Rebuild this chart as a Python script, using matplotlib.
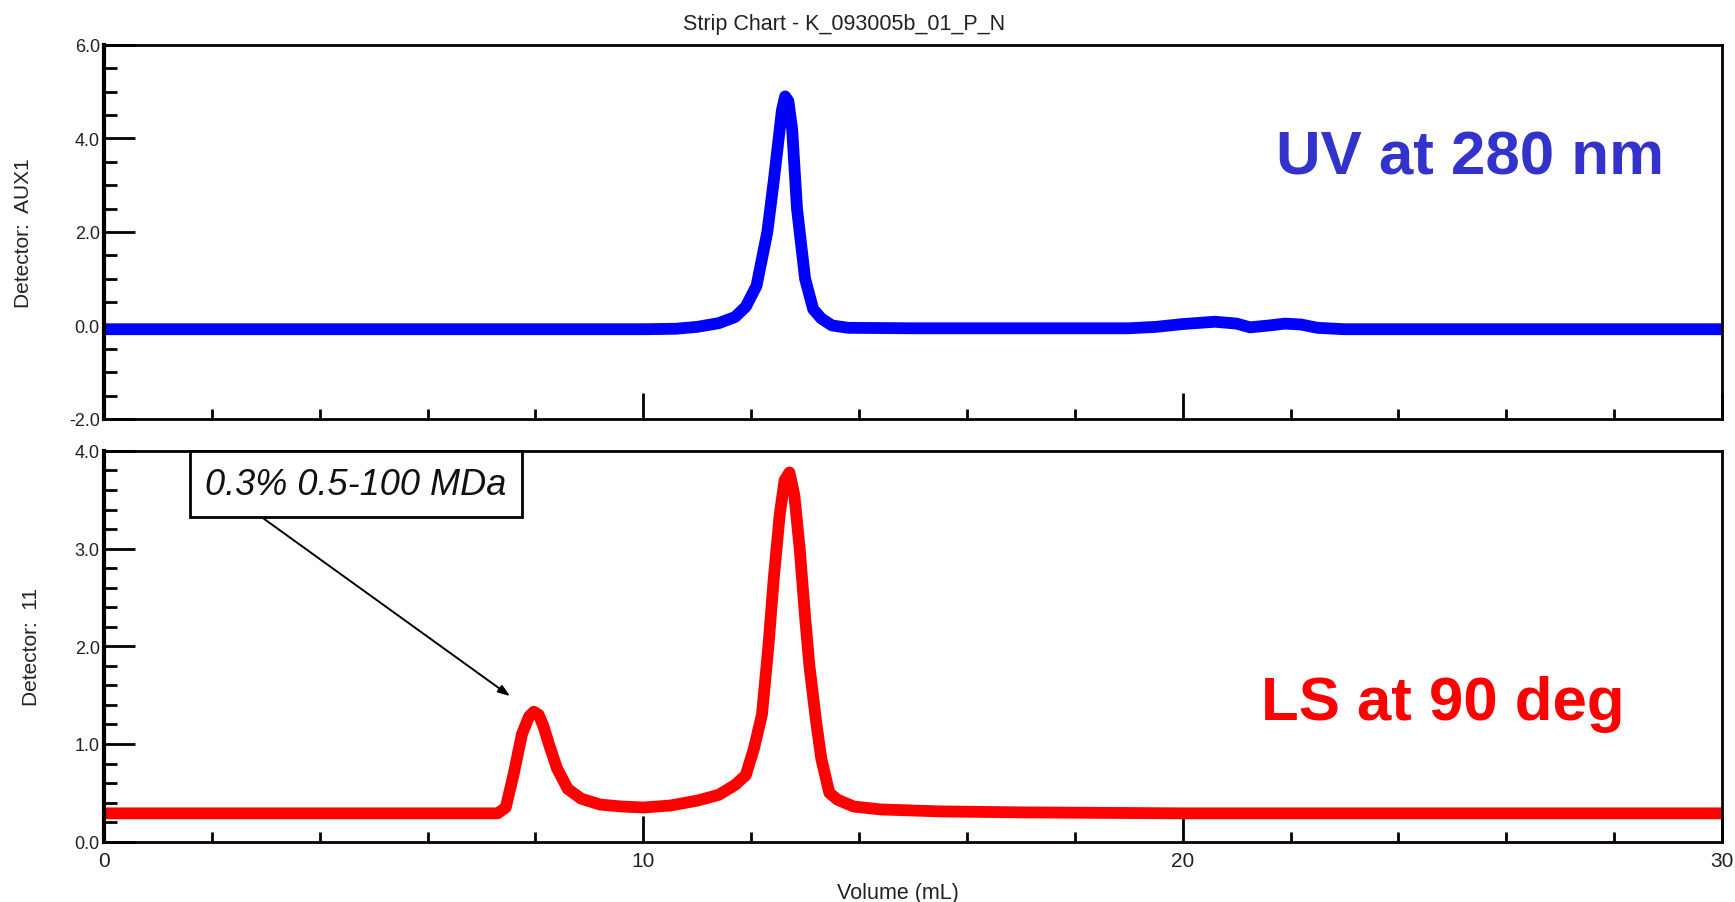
import matplotlib.pyplot as plt
from matplotlib.ticker import MultipleLocator, FormatStrFormatter

plt.rcParams['font.family'] = ['Liberation Sans', 'DejaVu Sans']

TITLE = "Strip Chart - K_093005b_01_P_N"

# UV detector trace (AUX1)
uv_volume = [0, 10.0, 10.6, 11.0, 11.4, 11.7, 11.9, 12.1, 12.3, 12.42, 12.5,
             12.57, 12.63, 12.69, 12.76, 12.85, 13.0, 13.15, 13.3, 13.5, 13.8,
             15.0, 19.0, 19.5, 20.0, 20.6, 21.0, 21.25, 21.6, 21.9, 22.2, 22.5,
             23.0, 30.0]
uv_signal = [-0.08, -0.08, -0.07, -0.03, 0.05, 0.18, 0.40, 0.85, 2.0, 3.1, 3.9,
             4.6, 4.9, 4.8, 4.2, 2.5, 1.0, 0.35, 0.15, 0.0, -0.05,
             -0.06, -0.06, -0.03, 0.03, 0.08, 0.04, -0.04, 0.0, 0.04, 0.02, -0.05,
             -0.08, -0.08]

# light scattering trace (detector 11)
ls_volume = [0, 7.3, 7.45, 7.6, 7.75, 7.88, 7.97, 8.06, 8.15, 8.25, 8.4, 8.6,
             8.85, 9.2, 9.6, 10.0, 10.5, 11.0, 11.4, 11.7, 11.9, 12.05, 12.2,
             12.32, 12.42, 12.53, 12.62, 12.71, 12.8, 12.9, 13.0, 13.08, 13.2,
             13.3, 13.45, 13.6, 13.9, 14.4, 15.5, 17.0, 20.0, 30.0]
ls_signal = [0.29, 0.29, 0.35, 0.7, 1.1, 1.28, 1.33, 1.30, 1.18, 1.0, 0.75, 0.54,
             0.44, 0.38, 0.36, 0.35, 0.37, 0.42, 0.48, 0.58, 0.68, 0.95, 1.3,
             2.0, 2.7, 3.35, 3.7, 3.78, 3.55, 3.0, 2.3, 1.8, 1.25,
             0.85, 0.5, 0.43, 0.36, 0.33, 0.31, 0.30, 0.29, 0.29]

x_limits = (0, 30)
x_tick_labels = ['0', '10', '20', '30']
uv_limits = (-2.0, 6.0)
ls_limits = (0.0, 4.0)

note_text = "0.3% 0.5-100 MDa"
note_target = (7.53, 1.49)
note_tail = (2.93, 3.32)


def style_axis(ax, ylim, ymajor, yminor):
    """Strip-chart look: inward ticks on left and bottom only."""
    ax.set_xlim(*x_limits)
    ax.set_ylim(*ylim)
    ax.xaxis.set_major_locator(MultipleLocator(10))
    ax.xaxis.set_minor_locator(MultipleLocator(2))
    ax.yaxis.set_major_locator(MultipleLocator(ymajor))
    ax.yaxis.set_minor_locator(MultipleLocator(yminor))
    ax.yaxis.set_major_formatter(FormatStrFormatter('%.1f'))
    ax.tick_params(which='both', direction='in', top=False, right=False,
                   color='black', width=2)
    ax.tick_params(axis='y', which='major', length=22, pad=3,
                   labelsize=13, labelcolor='#222222')
    ax.tick_params(axis='y', which='minor', length=9)
    ax.tick_params(axis='x', which='major', length=19, pad=7,
                   labelsize=15, labelcolor='#222222')
    ax.tick_params(axis='x', which='minor', length=7)
    for side in ['top', 'right', 'bottom']:
        ax.spines[side].set_linewidth(2)
    ax.spines['left'].set_linewidth(3)


fig = plt.figure(figsize=(17.35, 9.03), dpi=100)
ax_uv = fig.add_axes([0.0599, 0.5349, 0.9326, 0.4142])
ax_ls = fig.add_axes([0.0599, 0.0668, 0.9326, 0.4327])

ax_uv.plot(uv_volume, uv_signal, color='#0000ff', lw=8.5,
           solid_joinstyle='round', solid_capstyle='butt')
style_axis(ax_uv, uv_limits, 2.0, 0.5)
ax_uv.tick_params(axis='x', labelbottom=False)
ax_uv.set_ylabel("Detector:  AUX1", fontsize=15, color='#222222')
ax_uv.yaxis.set_label_coords(-0.044, 0.5)
ax_uv.text(25.33, 3.26, "UV at 280 nm", fontsize=44.5, fontweight='bold',
           color='#3333cc', ha='center', va='baseline')

ax_ls.plot(ls_volume, ls_signal, color='#ff0000', lw=8.5,
           solid_joinstyle='round', solid_capstyle='butt')
style_axis(ax_ls, ls_limits, 1.0, 0.2)
ax_ls.set_xticks([0, 10, 20, 30], x_tick_labels)
ax_ls.set_ylabel("Detector:  11", fontsize=15, color='#222222')
ax_ls.yaxis.set_label_coords(-0.039, 0.5)
ax_ls.set_xlabel("Volume (mL)", fontsize=15.5, color='#222222')
ax_ls.xaxis.set_label_coords(0.4907, -0.102)
ax_ls.text(24.83, 1.256, "LS at 90 deg", fontsize=44.5, fontweight='bold',
           color='#ff0000', ha='center', va='baseline')

ax_ls.text(4.67, 3.66, note_text, fontsize=26, style='italic', color='#111111',
           ha='center', va='center',
           bbox=dict(boxstyle='square,pad=0.42', fc='white', ec='black', lw=2))
ax_ls.annotate('', xy=note_target, xytext=note_tail,
               arrowprops=dict(arrowstyle='-|>,head_length=0.7,head_width=0.25',
                               color='black', lw=1.4, shrinkA=0, shrinkB=0))

fig.suptitle(TITLE, x=0.4863, y=0.985, fontsize=15.5, color='#222222')

fig.savefig("out.png", dpi=100)
